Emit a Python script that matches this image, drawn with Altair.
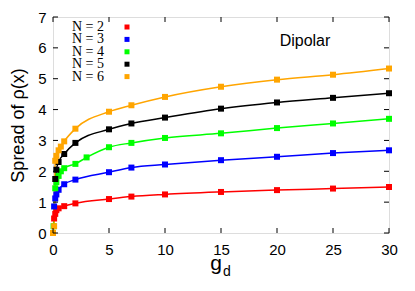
import altair as alt
import pandas as pd

# ---- data ----
series_names = ["N = 2", "N = 3", "N = 4", "N = 5", "N = 6"]
series_colors = ["#ff0000", "#0000ff", "#00ff00", "#000000", "#ffa500"]

x_n2 = [0.1, 0.2, 0.3, 0.5, 1, 2, 5, 7, 10, 15, 20, 25, 30]
y_n2 = [0.47, 0.62, 0.74, 0.80, 0.87, 0.96, 1.10, 1.18, 1.25, 1.33, 1.39, 1.44, 1.49]

x_n3 = [0.1, 0.2, 0.3, 0.5, 1, 2, 5, 7, 10, 15, 20, 25, 30]
y_n3 = [0.86, 1.12, 1.25, 1.40, 1.58, 1.73, 1.97, 2.12, 2.22, 2.36, 2.47, 2.59, 2.68]

x_n4 = [0.05, 0.2, 0.3, 0.5, 0.7, 1, 2, 3, 5, 7, 10, 15, 20, 25, 30]
y_n4 = [0.22, 1.45, 1.65, 1.85, 2.00, 2.10, 2.24, 2.45, 2.78, 2.92, 3.08, 3.23, 3.40, 3.55, 3.70]

x_n5 = [0.2, 0.3, 0.5, 1, 2, 5, 7, 10, 15, 20, 25, 30]
y_n5 = [1.75, 2.05, 2.30, 2.56, 2.92, 3.36, 3.55, 3.74, 4.03, 4.23, 4.38, 4.53]

x_n6 = [0, 0.1, 0.2, 0.3, 0.5, 0.7, 1, 2, 5, 7, 10, 15, 20, 25, 30]
y_n6 = [0, 0.22, 2.34, 2.50, 2.68, 2.80, 2.97, 3.38, 3.93, 4.14, 4.41, 4.74, 4.97, 5.13, 5.33]

x_ticks = [0, 5, 10, 15, 20, 25, 30]
y_ticks = [0, 1, 2, 3, 4, 5, 6, 7]

xs = [x_n2, x_n3, x_n4, x_n5, x_n6]
ys = [y_n2, y_n3, y_n4, y_n5, y_n6]

rows = []
for i, (name, xv, yv) in enumerate(zip(series_names, xs, ys)):
    for a, b in zip(xv, yv):
        rows.append({"series": name, "order": i, "g": a, "s": b})
df = pd.DataFrame(rows)

W, H = 336, 216
FONT = "Liberation Sans"

xscale = alt.Scale(domain=[0, 30], nice=False, zero=False)
yscale = alt.Scale(domain=[0, 7], nice=False, zero=False)
cscale = alt.Scale(domain=series_names, range=series_colors)

xaxis = alt.Axis(values=x_ticks, ticks=False, domain=False, grid=False,
                 labelFont=FONT, labelFontSize=15, labelColor="black",
                 labelPadding=9, title=None, labelFlush=False, labelOverlap=False)
yaxis = alt.Axis(values=y_ticks, ticks=False, domain=False, grid=False,
                 labelFont=FONT, labelFontSize=15, labelColor="black",
                 labelPadding=7, title="Spread of ρ(x)", titleFont=FONT,
                 titleFontSize=18, titleFontWeight="normal", titleColor="black",
                 titlePadding=10, labelOverlap=False, labelFlush=False)

base = alt.Chart(df)

lines = base.mark_line(strokeWidth=1.5, interpolate="monotone", clip=False).encode(
    x=alt.X("g:Q", scale=xscale, axis=xaxis),
    y=alt.Y("s:Q", scale=yscale, axis=yaxis),
    color=alt.Color("series:N", scale=cscale, legend=None),
    detail="series:N",
    order="g:Q",
)

points = base.mark_square(size=36, opacity=1, clip=False).encode(
    x=alt.X("g:Q", scale=xscale, axis=xaxis),
    y=alt.Y("s:Q", scale=yscale, axis=yaxis),
    color=alt.Color("series:N", scale=cscale, legend=None),
    order="order:Q",
)

xt = pd.DataFrame({"v": x_ticks})
yt = pd.DataFrame({"v": y_ticks})
tick_len = 5
bx = alt.Chart(xt).mark_rule(color="black", strokeWidth=1).encode(
    x=alt.X("v:Q", scale=xscale, axis=xaxis), y=alt.value(H), y2=alt.value(H - tick_len))
tx = alt.Chart(xt).mark_rule(color="black", strokeWidth=1).encode(
    x=alt.X("v:Q", scale=xscale, axis=xaxis), y=alt.value(0), y2=alt.value(tick_len))
ly = alt.Chart(yt).mark_rule(color="black", strokeWidth=1).encode(
    y=alt.Y("v:Q", scale=yscale, axis=yaxis), x=alt.value(0), x2=alt.value(tick_len))
ry = alt.Chart(yt).mark_rule(color="black", strokeWidth=1).encode(
    y=alt.Y("v:Q", scale=yscale, axis=yaxis), x=alt.value(W), x2=alt.value(W - tick_len))

# legend (label then symbol, as in the reference)
leg_df = pd.DataFrame({"series": series_names, "i": list(range(len(series_names)))})
leg_base = alt.Chart(leg_df).transform_calculate(py="10 + 12.4*datum.i")
leg_text = leg_base.mark_text(align="left", baseline="middle", font="Liberation Serif",
                              fontSize=14, color="black").encode(
    x=alt.value(19), y=alt.Y("py:Q", scale=None), text="series:N")
leg_sym = leg_base.mark_square(size=25, opacity=1).encode(
    x=alt.value(74), y=alt.Y("py:Q", scale=None),
    color=alt.Color("series:N", scale=cscale, legend=None))

dip = alt.Chart(pd.DataFrame({"t": ["Dipolar"]})).mark_text(
    font=FONT, fontSize=16, color="black", align="center", baseline="middle").encode(
    x=alt.value(252), y=alt.value(24), text="t:N")

g_txt = alt.Chart(pd.DataFrame({"t": ["g"]})).mark_text(
    font=FONT, fontSize=21, color="black", align="right", baseline="alphabetic").encode(
    x=alt.value(169), y=alt.value(253), text="t:N")
d_txt = alt.Chart(pd.DataFrame({"t": ["d"]})).mark_text(
    font=FONT, fontSize=14, color="black", align="left", baseline="alphabetic").encode(
    x=alt.value(170), y=alt.value(259), text="t:N")

chart = alt.layer(lines, points, bx, tx, ly, ry, leg_text, leg_sym, dip, g_txt, d_txt).properties(
    width=W, height=H,
    autosize=alt.AutoSizeParams(type="none"),
    padding={"left": 45, "top": 9, "right": 18, "bottom": 50},
).configure_view(stroke="black", strokeWidth=1.5).configure(background="white")

chart.save("out.html", embed_options={"renderer": "svg", "actions": False})
